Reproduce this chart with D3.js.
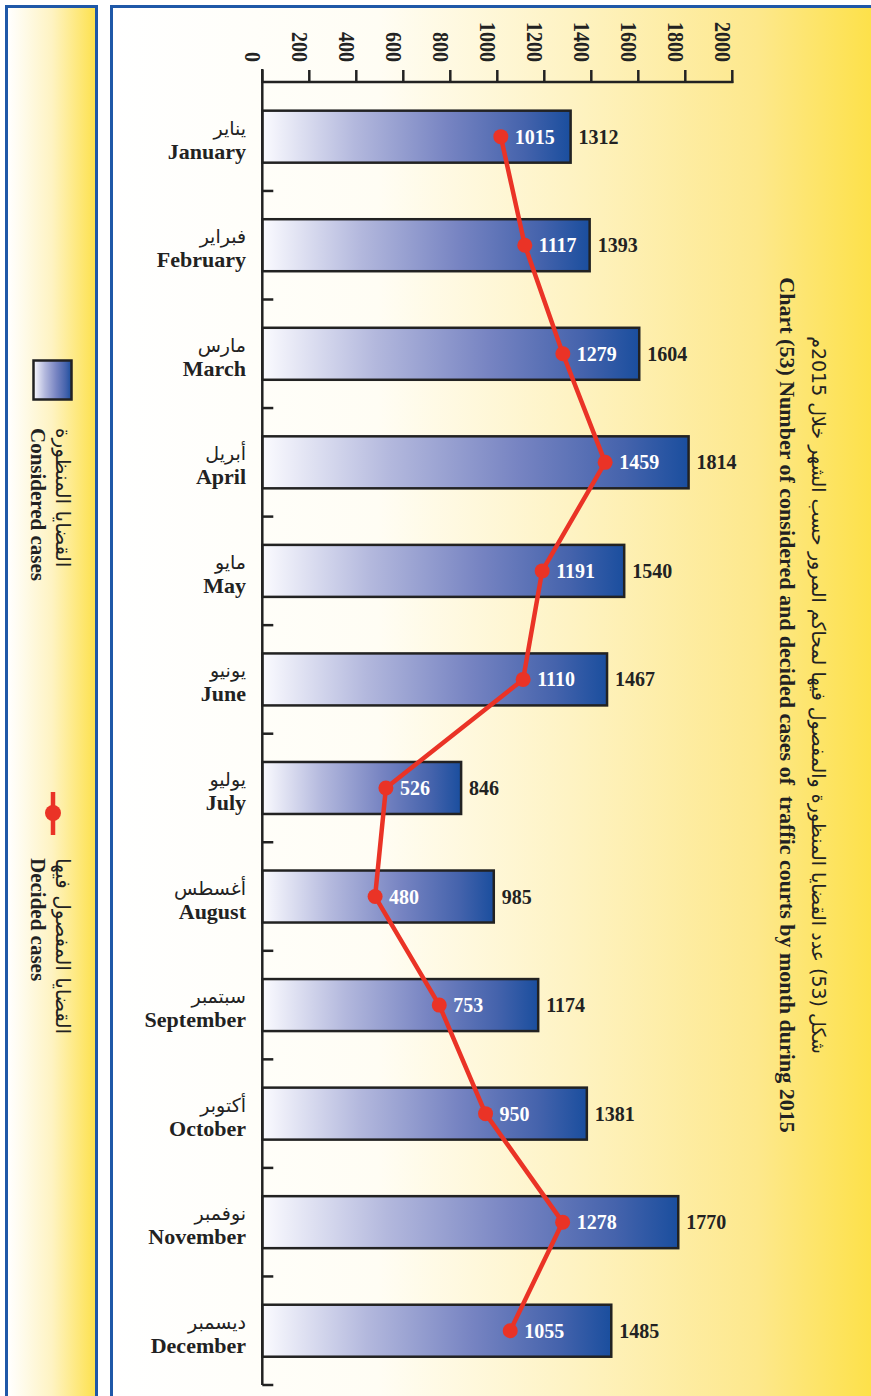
<!DOCTYPE html>
<html>
<head>
<meta charset="utf-8">
<script src="https://cdn.jsdelivr.net/npm/d3@7"></script>
<style>
  html, body { margin: 0; padding: 0; background: #ffffff; }
  svg { display: block; }
</style>
</head>
<body>
<script>
// ---- data ----
const monthsEn = ["January","February","March","April","May","June","July","August","September","October","November","December"];
const monthsAr = ["يناير","فبراير","مارس","أبريل","مايو","يونيو","يوليو","أغسطس","سبتمبر","أكتوبر","نوفمبر","ديسمبر"];
const considered = [1312,1393,1604,1814,1540,1467,846,985,1174,1381,1770,1485];
const decided = [1015,1117,1279,1459,1191,1110,526,480,753,950,1278,1055];
const valueTicks = [0,200,400,600,800,1000,1200,1400,1600,1800,2000];
const titleAr = "شكل (53) عدد القضايا المنظورة والمفصول فيها لمحاكم المرور حسب الشهر خلال 2015م";
const titleEn = "Chart (53) Number of considered and decided cases of  traffic courts by month during 2015";
const legendLabels = [
  {ar: "القضايا المنظورة", en: "Considered cases"},
  {ar: "القضايا المفصول فيها", en: "Decided cases"}
];

const W = 871, H = 1396;
const serif = "'Liberation Serif', 'Times New Roman', serif";
const arab = "'DejaVu Sans', sans-serif";
const red = "#ea3326";
const ink = "#222222";
const frameBlue = "#1f58a8";

const svg = d3.select("body").append("svg").attr("width", W).attr("height", H);
const defs = svg.append("defs");

const panelGrad = defs.append("linearGradient").attr("id","panelGrad")
  .attr("gradientUnits","userSpaceOnUse").attr("x1",113).attr("x2",871).attr("y1",0).attr("y2",0);
[[0,"#ffffff"],[0.35,"#fffdf4"],[0.6,"#fef3c4"],[0.85,"#fde88c"],[1,"#fde14a"]]
  .forEach(([o,c]) => panelGrad.append("stop").attr("offset",o).attr("stop-color",c));

const legGrad = defs.append("linearGradient").attr("id","legGrad")
  .attr("gradientUnits","userSpaceOnUse").attr("x1",8).attr("x2",96).attr("y1",0).attr("y2",0);
[[0,"#ffffff"],[0.5,"#fef3c2"],[1,"#fde14c"]]
  .forEach(([o,c]) => legGrad.append("stop").attr("offset",o).attr("stop-color",c));

const barGrad = defs.append("linearGradient").attr("id","barGrad")
  .attr("x1","0").attr("x2","1").attr("y1","0").attr("y2","0");
[[0,"#fbfbff"],[0.3,"#b3b8dd"],[0.6,"#7784c2"],[0.85,"#4563ac"],[1,"#1a4e9e"]]
  .forEach(([o,c]) => barGrad.append("stop").attr("offset",o).attr("stop-color",c));

// ---- panels ----
svg.append("rect").attr("x",6.5).attr("y",6.5).attr("width",90).attr("height",H+20)
  .attr("fill","url(#legGrad)").attr("stroke",frameBlue).attr("stroke-width",3);
svg.append("rect").attr("x",111.5).attr("y",6.5).attr("width",W+20).attr("height",H+20)
  .attr("fill","url(#panelGrad)").attr("stroke",frameBlue).attr("stroke-width",3);

// ---- scales ----
const x = d3.scaleLinear().domain([0,2000]).range([262.3,732.3]);
const y = d3.scaleBand().domain(monthsEn).range([82.4,1385]).paddingInner(0).paddingOuter(0);
const barH = 52;
const yc = m => y(m) + y.bandwidth()/2;

const g = svg.append("g");

// ---- bars ----
g.selectAll("rect.bar").data(monthsEn).join("rect").attr("class","bar")
  .attr("x", x(0)).attr("y", m => yc(m) - barH/2)
  .attr("width", (m,i) => x(considered[i]) - x(0)).attr("height", barH)
  .attr("fill","url(#barGrad)").attr("stroke",ink).attr("stroke-width",2.5);

// ---- value axis (top) ----
const axG = g.append("g");
axG.append("line").attr("x1",x(0)).attr("x2",x(2000)+1).attr("y1",82).attr("y2",82)
  .attr("stroke",ink).attr("stroke-width",2.5);
axG.selectAll("line.vt").data(valueTicks).join("line").attr("class","vt")
  .attr("x1",d=>x(d)).attr("x2",d=>x(d)).attr("y1",70).attr("y2",83)
  .attr("stroke",ink).attr("stroke-width",2.5);
axG.selectAll("text.vt").data(valueTicks).join("text").attr("class","vt")
  .attr("transform", d => `translate(${x(d)-17},62) rotate(90) scale(1,1.2)`)
  .attr("text-anchor","end")
  .attr("font-family",serif).attr("font-weight","bold").attr("font-size",20)
  .attr("fill",ink).text(d => d);

// ---- category axis (left) ----
axG.append("line").attr("x1",x(0)).attr("x2",x(0)).attr("y1",69).attr("y2",1385)
  .attr("stroke",ink).attr("stroke-width",2.5);
const bounds = monthsEn.slice(1).map(m => y(m)).concat([y.range()[1]]);
axG.selectAll("line.ct").data(bounds).join("line").attr("class","ct")
  .attr("x1",x(0)).attr("x2",x(0)+11).attr("y1",d=>d).attr("y2",d=>d)
  .attr("stroke",ink).attr("stroke-width",2.5);

// month labels
g.selectAll("text.mar").data(monthsEn).join("text").attr("class","mar")
  .attr("x",246).attr("y", m => yc(m) - 2)
  .attr("text-anchor","end").attr("font-family",arab).attr("font-size",19)
  .attr("fill",ink).text((m,i) => monthsAr[i]);
g.selectAll("text.men").data(monthsEn).join("text").attr("class","men")
  .attr("x",246).attr("y", m => yc(m) + 22)
  .attr("text-anchor","end").attr("font-family",serif).attr("font-weight","bold").attr("font-size",22)
  .attr("fill",ink).text(m => m);

// considered labels
g.selectAll("text.cv").data(monthsEn).join("text").attr("class","cv")
  .attr("x",(m,i) => x(considered[i]) + 8).attr("y", m => yc(m) + 7)
  .attr("font-family",serif).attr("font-weight","bold").attr("font-size",20)
  .attr("fill",ink).text((m,i) => considered[i]);

// ---- decided line ----
const line = d3.line().x((m,i) => x(decided[i])).y(m => yc(m));
g.append("path").datum(monthsEn).attr("d", line)
  .attr("fill","none").attr("stroke",red).attr("stroke-width",4.5).attr("stroke-linejoin","round");
g.selectAll("circle.dot").data(monthsEn).join("circle").attr("class","dot")
  .attr("cx",(m,i) => x(decided[i])).attr("cy", m => yc(m)).attr("r",7.5).attr("fill",red);
g.selectAll("text.dv").data(monthsEn).join("text").attr("class","dv")
  .attr("x",(m,i) => x(decided[i]) + 14).attr("y", m => yc(m) + 7)
  .attr("font-family",serif).attr("font-weight","bold").attr("font-size",20)
  .attr("fill","#ffffff").text((m,i) => decided[i]);

// ---- title (rotated) ----
svg.append("text").attr("transform","translate(812,695) rotate(90)")
  .attr("text-anchor","middle").attr("font-family",arab).attr("font-size",19)
  .attr("fill",ink).text(titleAr);
svg.append("text").attr("transform","translate(780,705) rotate(90)")
  .attr("text-anchor","middle").attr("font-family",serif).attr("font-weight","bold").attr("font-size",22)
  .attr("fill",ink).attr("xml:space","preserve").style("white-space","pre").text(titleEn);

// ---- legend (rotated, left panel) ----
svg.append("rect").attr("x",33.5).attr("y",360.5).attr("width",38).attr("height",39)
  .attr("fill","url(#barGrad)").attr("stroke",ink).attr("stroke-width",2.5);
svg.append("line").attr("x1",53).attr("x2",53).attr("y1",792).attr("y2",835)
  .attr("stroke",red).attr("stroke-width",4.5);
svg.append("circle").attr("cx",53).attr("cy",813).attr("r",8).attr("fill",red);

const legStarts = [428, 858];
legendLabels.forEach((d,i) => {
  svg.append("text").attr("transform",`translate(56,${legStarts[i]}) rotate(90)`)
    .attr("text-anchor","start").attr("font-family",arab).attr("font-size",20)
    .attr("fill",ink).text(d.ar);
  svg.append("text").attr("transform",`translate(31,${legStarts[i]}) rotate(90)`)
    .attr("text-anchor","start").attr("font-family",serif).attr("font-weight","bold").attr("font-size",21)
    .attr("fill",ink).text(d.en);
});
</script>
</body>
</html>
